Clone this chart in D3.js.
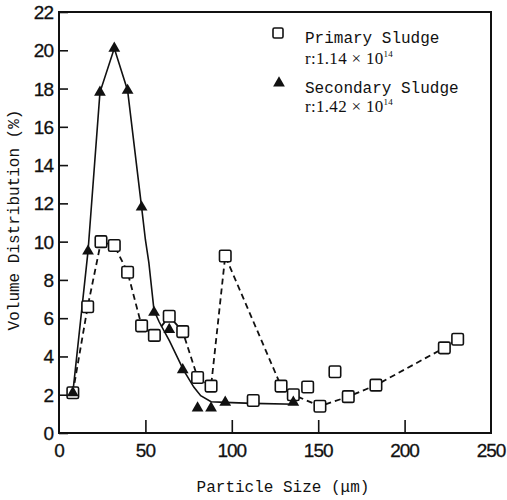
<!DOCTYPE html>
<html>
<head>
<meta charset="utf-8">
<script src="https://cdn.jsdelivr.net/npm/d3@7/dist/d3.min.js"></script>
<style>
  html, body { margin: 0; padding: 0; background: #fff; }
  svg { display: block; }
  .tick-num { font-family: "Liberation Sans Narrow", "Arial Narrow", "Liberation Sans", sans-serif; font-size: 19px; letter-spacing: -1px; fill: #111; stroke: #111; stroke-width: 0.3px; }
  .mono { font-family: "Liberation Mono", "Courier New", monospace; font-size: 16px; fill: #111; }
  .serif { font-family: "Liberation Serif", "Times New Roman", serif; font-size: 17px; letter-spacing: 0.3px; fill: #111; }
</style>
</head>
<body>
<svg id="chart" width="507" height="500"></svg>
<script>
// Particle size (µm) and volume distribution (%) per sample
const primarySize  = [8, 16.6, 24.3, 32, 39.7, 47.8, 55.2, 63.8, 71.6, 80.2, 88, 96.2, 112.4, 128.5, 135.6, 143.9, 151, 159.7, 167.4, 183.4, 223, 230.7];
const primaryValue = [2.1, 6.6, 10.0, 9.8, 8.4, 5.6, 5.1, 6.1, 5.3, 2.9, 2.45, 9.25, 1.7, 2.45, 2.0, 2.4, 1.4, 3.2, 1.9, 2.5, 4.45, 4.9];
// Points joined by the dashed primary line (indices into the arrays above)
const primaryLineIdx = [0, 1, 2, 3, 4, 5, 6, 7, 8, 9, 10, 11, 13, 14, 16, 18, 19, 20, 21];

const secondarySize  = [8, 16.8, 23.7, 32, 39.7, 47.8, 55, 63.8, 71.6, 80.2, 88, 96.2, 135.6];
const secondaryValue = [2.1, 9.5, 17.8, 20.1, 17.9, 11.8, 6.3, 5.4, 3.3, 1.3, 1.3, 1.6, 1.6];
// Fitted curve drawn through the secondary sludge data
const secondaryCurveSize  = [8, 16.8, 23.7, 32, 39.7, 47.8, 50, 52, 55, 58, 64, 72, 78, 82, 88, 96, 112, 137];
const secondaryCurveValue = [2.1, 9.5, 17.8, 20.1, 17.9, 11.8, 10.1, 8.9, 6.4, 5.8, 4.8, 3.3, 2.4, 1.95, 1.63, 1.6, 1.55, 1.5];

const xTicks = [0, 50, 100, 150, 200, 250];
const yTicks = [0, 2, 4, 6, 8, 10, 12, 14, 16, 18, 20, 22];

const svg = d3.select("#chart");
const plotLeft = 59, plotRight = 491, plotTop = 12, plotBottom = 433;

const x = d3.scaleLinear().domain([0, 250]).range([plotLeft, plotRight]);
const y = d3.scaleLinear().domain([0, 22]).range([plotBottom, plotTop]);

// Frame
svg.append("rect")
  .attr("x", plotLeft).attr("y", plotTop)
  .attr("width", plotRight - plotLeft).attr("height", plotBottom - plotTop)
  .attr("fill", "none").attr("stroke", "#111").attr("stroke-width", 2);

// Axes with inward ticks
const yAxis = svg.append("g").attr("transform", `translate(${plotLeft},0)`)
  .call(d3.axisRight(y).tickValues(yTicks).tickSize(9).tickFormat(""));
yAxis.select(".domain").remove();
yAxis.selectAll("line").attr("stroke", "#111").attr("stroke-width", 1.6);

const xAxis = svg.append("g").attr("transform", `translate(0,${plotBottom})`)
  .call(d3.axisTop(x).tickValues(xTicks.slice(1, -1)).tickSize(13).tickFormat(""));
xAxis.select(".domain").remove();
xAxis.selectAll("line").attr("stroke", "#111").attr("stroke-width", 1.6);

// Tick labels
svg.append("g").selectAll("text").data(yTicks).join("text")
  .attr("class", "tick-num")
  .attr("x", plotLeft - 6).attr("y", d => y(d) + 7)
  .attr("text-anchor", "end")
  .text(d => d);

svg.append("g").selectAll("text").data(xTicks).join("text")
  .attr("class", "tick-num")
  .attr("x", d => x(d)).attr("y", 457)
  .attr("text-anchor", "middle")
  .text(d => d);

// Axis titles
svg.append("text").attr("class", "mono")
  .attr("x", 283).attr("y", 492).attr("text-anchor", "middle")
  .text("Particle Size (\u03bcm)");

svg.append("text").attr("class", "mono")
  .attr("transform", "translate(19,220) rotate(-90)")
  .attr("text-anchor", "middle")
  .text("Volume Distribution (%)");

// Primary sludge: dashed polyline
const primaryLine = d3.line().x(i => x(primarySize[i])).y(i => y(primaryValue[i]));
svg.append("path")
  .attr("d", primaryLine(primaryLineIdx))
  .attr("fill", "none").attr("stroke", "#111")
  .attr("stroke-width", 1.8).attr("stroke-dasharray", "6,4");

// Secondary sludge: solid fitted curve
const secLine = d3.line().x((d, i) => x(secondaryCurveSize[i])).y(d => y(d));
svg.append("path")
  .attr("d", secLine(secondaryCurveValue))
  .attr("fill", "none").attr("stroke", "#111").attr("stroke-width", 1.6);

// Markers
const sq = 11.5;
svg.append("g").selectAll("rect").data(primarySize).join("rect")
  .attr("x", (d, i) => x(d) - sq / 2)
  .attr("y", (d, i) => y(primaryValue[i]) - sq / 2)
  .attr("width", sq).attr("height", sq).attr("rx", 1.5)
  .attr("fill", "#fff").attr("stroke", "#111").attr("stroke-width", 1.6);

const tri = d3.symbol().type(d3.symbolTriangle).size(60);
svg.append("g").selectAll("path").data(secondarySize).join("path")
  .attr("d", tri)
  .attr("transform", (d, i) => `translate(${x(d)},${y(secondaryValue[i])})`)
  .attr("fill", "#111");

// Legend
const lg = svg.append("g");
lg.append("rect").attr("x", 273).attr("y", 28).attr("width", 10).attr("height", 10).attr("rx", 1.5)
  .attr("fill", "#fff").attr("stroke", "#111").attr("stroke-width", 1.6);
lg.append("text").attr("class", "mono").attr("x", 305).attr("y", 43).text("Primary Sludge");
const r1 = lg.append("text").attr("class", "serif").attr("x", 305).attr("y", 64);
r1.append("tspan").text("r:1.14 \u00d7 10");
r1.append("tspan").attr("dy", -7).attr("font-size", 9).text("14");

lg.append("path").attr("d", tri).attr("transform", "translate(279,83)").attr("fill", "#111");
lg.append("text").attr("class", "mono").attr("x", 305).attr("y", 93).text("Secondary Sludge");
const r2 = lg.append("text").attr("class", "serif").attr("x", 305).attr("y", 112);
r2.append("tspan").text("r:1.42 \u00d7 10");
r2.append("tspan").attr("dy", -7).attr("font-size", 9).text("14");
</script>
</body>
</html>
